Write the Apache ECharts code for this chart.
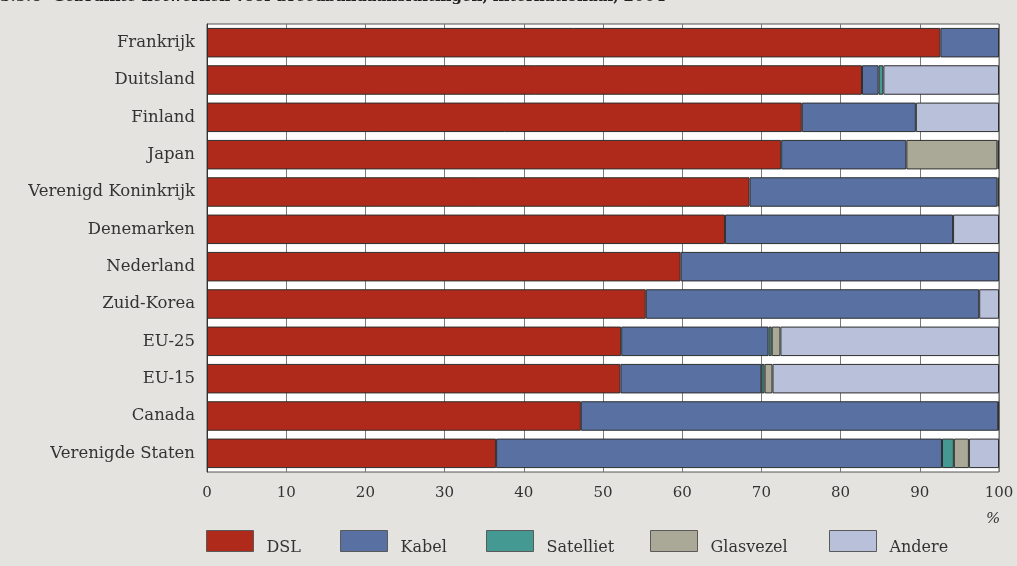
<!DOCTYPE html>
<html>
<head>
<meta charset="utf-8">
<script src="https://cdn.jsdelivr.net/npm/echarts@6/dist/echarts.min.js"></script>
<style>
  html, body { margin: 0; padding: 0; background: #e4e3df; }
  #chart { width: 1017px; height: 566px; }
</style>
</head>
<body>
<div id="chart"></div>
<script>
// Broadband connections by network type, share in %
const categories = [
  'Frankrijk', 'Duitsland', 'Finland', 'Japan', 'Verenigd Koninkrijk',
  'Denemarken', 'Nederland', 'Zuid-Korea', 'EU-25', 'EU-15', 'Canada',
  'Verenigde Staten'
];
const dsl       = [92.6, 82.7, 75.1, 72.5, 68.5, 65.4, 59.8, 55.4, 52.3, 52.2, 47.2, 36.5];
const kabel     = [ 7.4,  2.1, 14.4, 15.8, 31.3, 28.8, 40.2, 42.1, 18.6, 17.8, 52.7, 56.3];
const satelliet = [null,  0.6, null, null, null, null, null, null,  0.4,  0.4, null,  1.5];
const glasvezel = [null, null, null, 11.5, null, null, null, null,  1.1,  1.0, null,  1.9];
const andere    = [null, 14.6, 10.5,  0.2,  0.2,  5.8, null,  2.5, 27.6, 28.6,  0.1,  3.8];
const xTicks = [0, 10, 20, 30, 40, 50, 60, 70, 80, 90, 100];

const seriesDefs = [
  { name: 'DSL',       data: dsl,       color: '#b02a1c', legendLeft: 206 },
  { name: 'Kabel',     data: kabel,     color: '#5870a2', legendLeft: 340 },
  { name: 'Satelliet', data: satelliet, color: '#449a93', legendLeft: 486 },
  { name: 'Glasvezel', data: glasvezel, color: '#aaa897', legendLeft: 650 },
  { name: 'Andere',    data: andere,    color: '#b8c0da', legendLeft: 829 }
];

const serif = '"DejaVu Serif", serif';

const chart = echarts.init(document.getElementById('chart'), null, { renderer: 'canvas' });

chart.setOption({
  backgroundColor: '#e4e3df',
  animation: false,
  grid: {
    left: 207, right: 18, top: 24, bottom: 94,
    show: true, backgroundColor: '#ffffff',
    borderColor: '#555555', borderWidth: 1
  },
  xAxis: {
    type: 'value', min: xTicks[0], max: xTicks[xTicks.length - 1], interval: 10,
    axisLine: { show: false },
    axisTick: { show: false },
    splitLine: { show: true, lineStyle: { color: '#7a7a7a', width: 1 } },
    axisLabel: { color: '#333', fontFamily: serif, fontSize: 15, margin: 14 }
  },
  yAxis: {
    type: 'category', data: categories, inverse: true,
    axisLine: { show: true, lineStyle: { color: '#333', width: 1 } },
    axisTick: { show: false },
    axisLabel: { color: '#333', fontFamily: serif, fontSize: 16.5, margin: 12 }
  },
  legend: seriesDefs.map(s => ({
    data: [s.name],
    left: s.legendLeft, top: 530, padding: 0,
    itemWidth: 47, itemHeight: 21,
    icon: 'rect',
    itemStyle: { borderColor: '#5a5a5a', borderWidth: 1 },
    formatter: '{t|{name}}',
    textStyle: {
      color: '#333', fontFamily: serif, fontSize: 16,
      rich: { t: { color: '#333', fontFamily: serif, fontSize: 16, padding: [14, 0, 0, 8] } }
    },
    selectedMode: false
  })),
  graphic: [
    {
      type: 'text', left: 0, top: -10,
      style: {
        text: '3.5.6  Gebruikte netwerken voor breedbandaansluitingen, internationaal, 2004',
        fill: '#222', font: 'bold 15px "DejaVu Serif", serif'
      }
    },
    {
      type: 'text', left: 986, top: 512,
      style: { text: '%', fill: '#333', font: 'italic 15px "DejaVu Serif", serif' }
    }
  ],
  series: seriesDefs.map(s => ({
    name: s.name,
    type: 'bar',
    stack: 'total',
    data: s.data,
    barCategoryGap: '21%',
    itemStyle: { color: s.color, borderColor: '#2e2e2e', borderWidth: 1 }
  }))
});
</script>
</body>
</html>
